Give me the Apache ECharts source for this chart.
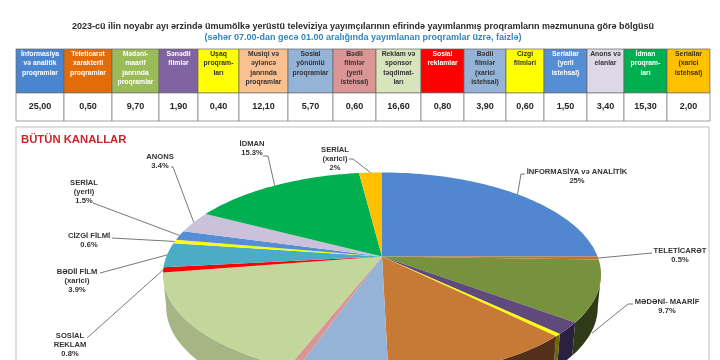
<!DOCTYPE html>
<html>
<head>
<meta charset="utf-8">
<script src="https://cdn.jsdelivr.net/npm/echarts@6/dist/echarts.min.js"></script>
<style>
  html, body { margin: 0; background: #fff; }
  #chart { width: 720px; height: 360px; }
</style>
</head>
<body>
<div id="chart"></div>
<script>
const titleText = '2023-cü ilin noyabr ayı ərzində ümumölkə yerüstü televiziya yayımçılarının efirində yayımlanmış proqramların məzmununa görə bölgüsü'
const subtitleText = '(səhər 07.00-dan gecə 01.00 aralığında yayımlanan proqramlar üzrə, faizlə)'
const chartTitle = 'BÜTÜN KANALLAR'

// table
const categories = [
  'İnformasiya\nvə analitik\nproqramlar', 'Teleticarət\nxarakterli\nproqramlar', 'Mədəni-\nmaarif\njanrında\nproqramlar',
  'Sənədli\nfilmlər', 'Uşaq\nproqram-\nları', 'Musiqi və\nəyləncə\njanrında\nproqramlar', 'Sosial\nyönümlü\nproqramlar',
  'Bədii\nfilmlər\n(yerli\nistehsal)', 'Reklam və\nsponsor\ntəqdimat-\nları', 'Sosial\nreklamlar', 'Bədii\nfilmlər\n(xarici\nistehsal)',
  'Cizgi\nfilmləri', 'Seriallar\n(yerli\nistehsal)', 'Anons və\nelanlar', 'İdman\nproqram-\nları', 'Seriallar\n(xarici\nistehsal)'
]
const values = [25.0, 0.5, 9.7, 1.9, 0.4, 12.1, 5.7, 0.6, 16.6, 0.8, 3.9, 0.6, 1.5, 3.4, 15.3, 2.0]
const valueLabels = ['25,00', '0,50', '9,70', '1,90', '0,40', '12,10', '5,70', '0,60', '16,60', '0,80', '3,90', '0,60', '1,50', '3,40', '15,30', '2,00']

// pie labels, same order as values. empty = no label in the picture
const sliceLabels = [
  'İNFORMASİYA və ANALİTİK\n25%', 'TELETİCARƏT\n0.5%', 'MƏDƏNİ- MAARİF\n9.7%', '', '', '', '', '', '',
  'SOSİAL\nREKLAM\n0.8%', 'BƏDİİ FİLM\n(xarici)\n3.9%', 'CİZGİ FİLMİ\n0.6%', 'SERİAL\n(yerli)\n1.5%', 'ANONS\n3.4%', 'İDMAN\n15.3%', 'SERİAL\n(xarici)\n2%'
]

// styles
const columnEdges = [16, 64, 112, 159, 198, 239, 288, 333, 376, 421, 464, 506, 544, 587, 624, 667, 710]
const headColors = ['#4a86d0', '#e36c09', '#9bbb59', '#8064a2', '#ffff00', '#fac090', '#95b3d7', '#d99694', '#d7e4bc', '#ff0000', '#95b3d7', '#ffff00', '#558ed5', '#dcd8e6', '#00b050', '#ffc000']
const headTextColors = ['#fff', '#fff', '#fff', '#fff', '#333', '#333', '#333', '#333', '#333', '#fff', '#333', '#333', '#fff', '#333', '#fff', '#333']
const topColors = ['#5087cf', '#c8702d', '#76923c', '#604a7b', '#ffff00', '#c67a35', '#95b3d7', '#d99694', '#c3d69b', '#ff0000', '#4bacc6', '#ffff00', '#558ed5', '#ccc1da', '#00b050', '#ffc000']
const sideColors = ['#2f3a16', '#2f3a16', '#2f3a16', '#2a2040', '#6b6b00', '#52301a', '#7d95b3', '#b07a78', '#a5b583', '#b00000', '#3b8a9e', '#b5b500', '#456fa5', '#a399b0', '#008a40', '#c89600']

// label text centre [x, y of first line], then leader start and elbow
const labelLayout = {
  0: { x: 577, y: 172, line: [[525, 174], [521, 174]] },
  1: { x: 680, y: 251, line: [[652, 253]] },
  2: { x: 667, y: 302, line: [[633, 304], [628, 304]], drop: 42, shift: -6 },
  9: { x: 70, y: 336, line: [[87, 338]] },
  10: { x: 77, y: 272, line: [[100, 273]] },
  11: { x: 89, y: 236, line: [[112, 238]] },
  12: { x: 84, y: 183, line: [[93, 203]] },
  13: { x: 160, y: 157, line: [[171, 167], [173, 167]] },
  14: { x: 252, y: 144, line: [[263, 156], [268, 156]] },
  15: { x: 335, y: 150, line: [[349, 159], [353, 159]] }
}

// the pie is a circle seen in perspective, so the centre is not the middle of the ellipse
const pieX = 382, pieY = 256.5, pieRx = 215.6, pieRy = 98.8, pieK = 0.176
const wallDepth = 33, wallShrink = 0.985
const frontFrom = 100.2, frontTo = 259.8

const total = values.reduce((a, b) => a + b, 0)
let running = 0
const startAngles = values.map(v => {
  const a = running / total * 360
  running += v
  return a
})

function piePoint(deg, bottom) {
  const r = deg * Math.PI / 180
  const u = Math.sin(r), v = -Math.cos(r), w = 1 - pieK * v
  const x = pieRx * u / w, y = pieRy * v / w
  if (!bottom) return [pieX + x, pieY + y]
  return [pieX + x * wallShrink, pieY + y + wallDepth]
}

function arcPoints(from, to, bottom) {
  const pts = []
  const n = Math.max(2, Math.ceil((to - from) / 1.5))
  for (let i = 0; i <= n; i++) pts.push(piePoint(from + (to - from) * i / n, bottom))
  return pts
}

function renderSlice(params) {
  const i = params.dataIndex
  const from = startAngles[i]
  const to = from + values[i] / total * 360
  const children = []
  const wFrom = Math.max(from, frontFrom), wTo = Math.min(to, frontTo)
  if (wTo > wFrom) {
    children.push({
      type: 'polygon',
      shape: { points: arcPoints(wFrom, wTo, false).concat(arcPoints(wFrom, wTo, true).reverse()) },
      style: { fill: sideColors[i] }
    })
  }
  children.push({
    type: 'polygon',
    shape: { points: [[pieX, pieY]].concat(arcPoints(from, to, false)) },
    style: { fill: topColors[i] }
  })
  return { type: 'group', children }
}

const graphics = []

// chart frame
graphics.push({ type: 'rect', z: 0, shape: { x: 16, y: 127, width: 693, height: 250 }, style: { fill: '#fff', stroke: '#d4d4d4', lineWidth: 1.5 } })

// table
categories.forEach((name, i) => {
  const x0 = columnEdges[i], x1 = columnEdges[i + 1]
  graphics.push({ type: 'rect', z: 1, shape: { x: x0, y: 49, width: x1 - x0, height: 44 }, style: { fill: headColors[i], stroke: '#666', lineWidth: 0.7 } })
  graphics.push({ type: 'rect', z: 1, shape: { x: x0, y: 93, width: x1 - x0, height: 28 }, style: { fill: '#fff', stroke: '#777', lineWidth: 0.7 } })
  graphics.push({
    type: 'text', z: 2, x: (x0 + x1) / 2, y: 49,
    style: { text: name, fill: headTextColors[i], font: 'bold 6.8px "Liberation Sans"', lineHeight: 9.4, align: 'center', verticalAlign: 'top', padding: [0.5, 0, 0, 0] }
  })
  graphics.push({
    type: 'text', z: 2, x: (x0 + x1) / 2, y: 107,
    style: { text: valueLabels[i], fill: '#262626', font: 'bold 9px "Liberation Sans"', align: 'center', verticalAlign: 'middle' }
  })
})

// leaders and slice labels
sliceLabels.forEach((text, i) => {
  if (!text) return
  const lay = labelLayout[i]
  const end = piePoint(startAngles[i] + values[i] / total * 180)
  if (lay.drop) {
    end[1] += lay.drop
    end[0] += lay.shift
  }
  graphics.push({ type: 'polyline', z: 3, shape: { points: lay.line.concat([end]) }, style: { stroke: '#555', lineWidth: 0.8, fill: 'none' } })
  graphics.push({
    type: 'text', z: 4, x: lay.x, y: lay.y - 4.5,
    style: { text, fill: '#333', font: 'bold 7.6px "Liberation Sans"', lineHeight: 9, align: 'center', verticalAlign: 'top' }
  })
})

const chart = echarts.init(document.getElementById('chart'))
chart.setOption({
  animation: false,
  backgroundColor: '#fff',
  title: [
    { text: titleText, left: 358, top: 17, textAlign: 'center', textStyle: { color: '#2b2b2b', fontFamily: 'Liberation Sans', fontWeight: 'bold', fontSize: 9 } },
    { text: subtitleText, left: 358, top: 28, textAlign: 'center', textStyle: { color: '#2f86bd', fontFamily: 'Liberation Sans', fontWeight: 'bold', fontSize: 9 } },
    { text: chartTitle, left: 16, top: 129, textStyle: { color: '#c9252d', fontFamily: 'Liberation Sans', fontWeight: 'bold', fontSize: 11.3 } }
  ],
  series: [{
    type: 'custom',
    coordinateSystem: 'none',
    silent: true,
    clip: false,
    z: 2,
    renderItem: renderSlice,
    data: values.map(v => [v])
  }],
  graphic: graphics
})
</script>
</body>
</html>
